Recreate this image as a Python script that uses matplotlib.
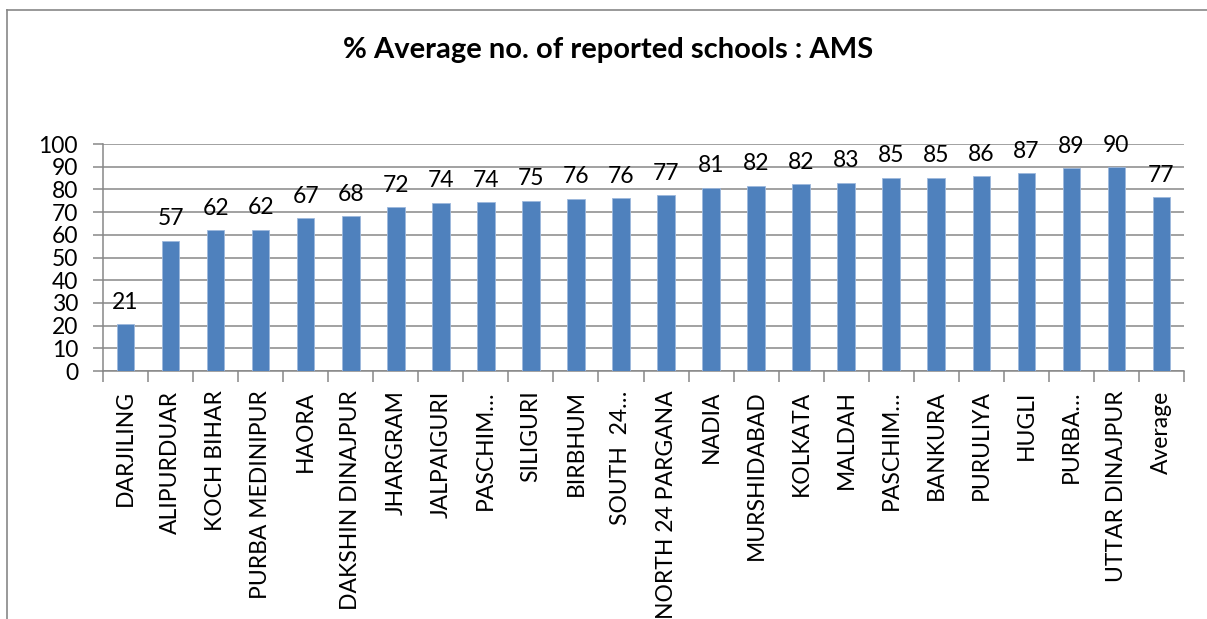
import matplotlib
matplotlib.use("Agg")
import matplotlib.pyplot as plt
from matplotlib.lines import Line2D
import numpy as np

categories = ["DARJILING", "ALIPURDUAR", "KOCH BIHAR", "PURBA MEDINIPUR", "HAORA",
              "DAKSHIN DINAJPUR", "JHARGRAM", "JALPAIGURI", "PASCHIM…", "SILIGURI",
              "BIRBHUM", "SOUTH  24…", "NORTH 24 PARGANA", "NADIA", "MURSHIDABAD",
              "KOLKATA", "MALDAH", "PASCHIM…", "BANKURA", "PURULIYA", "HUGLI",
              "PURBA…", "UTTAR DINAJPUR", "Average"]
values = [20.5, 57.4, 61.9, 62.3, 67.4, 68.3, 72.2, 74.1, 74.4, 75.0, 75.9, 76.1,
          77.4, 80.8, 81.7, 82.4, 82.9, 85.1, 85.1, 85.7, 87.2, 89.4, 89.8, 76.6]
labels = ["21", "57", "62", "62", "67", "68", "72", "74", "74", "75", "76", "76",
          "77", "81", "82", "82", "83", "85", "85", "86", "87", "89", "90", "77"]
title = "% Average no. of reported schools : AMS"
yticks = list(range(0, 101, 10))

plt.rcParams['font.family'] = ['Lato', 'DejaVu Sans']

W, H = 1207, 619
fig = plt.figure(figsize=(W / 100, H / 100), dpi=100)
ax = fig.add_axes([103 / W, 1 - 371 / H, (1184 - 103) / W, (371 - 144) / H])

n = len(categories)
x = np.arange(n)
ax.bar(x, values, width=0.39, color="#4F81BD", edgecolor="#9DB8DC", linewidth=0.6, zorder=3)
for xi, v, lab in zip(x, values, labels):
    ax.text(xi, v + 5.0, lab, ha="center", va="bottom", fontsize=16.5, color="black", zorder=4)

ax.set_xlim(-0.5, n - 0.5)
ax.set_ylim(0, 100)
ax.set_yticks(yticks)
ax.set_yticklabels([str(t) for t in yticks], fontsize=16.5)
ax.yaxis.grid(True, color="#878787", linewidth=1.1, zorder=0)
ax.set_xticks(x)
ax.set_xticklabels(categories, rotation=90, fontsize=16.5)
ax.set_xticks(np.arange(-0.5, n, 1.0), minor=True)
ax.tick_params(axis="x", which="major", length=0, pad=14)
ax.tick_params(axis="x", which="minor", length=8, color="#878787", width=1.1)
ax.tick_params(axis="y", length=7, color="#878787", width=1.1, pad=11)
for s in ["top", "right"]:
    ax.spines[s].set_visible(False)
for s in ["left", "bottom"]:
    ax.spines[s].set_color("#878787")
    ax.spines[s].set_linewidth(1.1)

fig.text(608 / W, 1 - 50 / H, title, ha="center", va="center", fontsize=21, fontweight="bold")

# outer chart border (top and left visible)
fig.add_artist(Line2D([7 / W, 1.0], [1 - 10 / H, 1 - 10 / H], transform=fig.transFigure, color="#878787", linewidth=1.2))
fig.add_artist(Line2D([7 / W, 7 / W], [0, 1 - 10 / H], transform=fig.transFigure, color="#878787", linewidth=1.2))

fig.savefig("out.png", dpi=100)
